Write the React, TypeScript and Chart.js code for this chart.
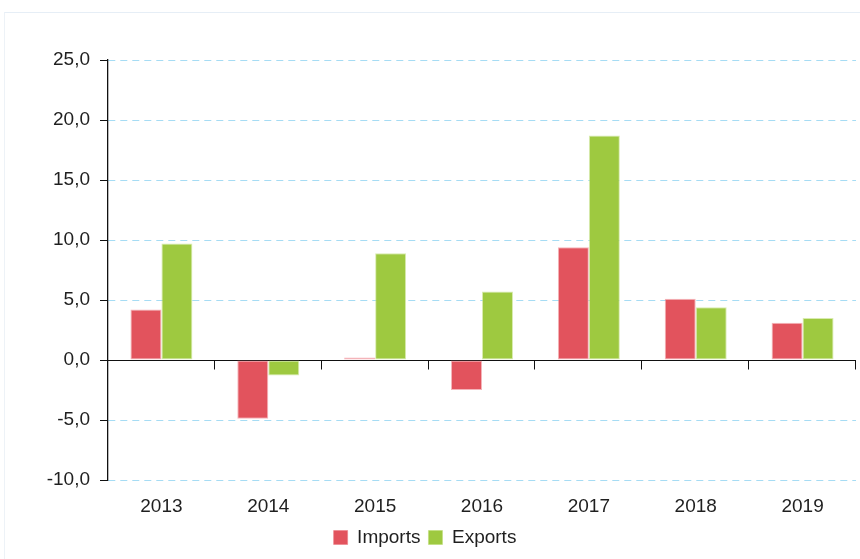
import React, { useEffect, useRef } from "react";
import { Chart, registerables } from "chart.js";

Chart.register(...registerables);

const years = ["2013", "2014", "2015", "2016", "2017", "2018", "2019"];
const imports = [4.2, -4.9, 0.2, -2.5, 9.4, 5.1, 3.1];
const exportsData = [9.7, -1.3, 8.9, 5.7, 18.7, 4.4, 3.5];
const yMin = -10;
const yMax = 25;
const yStep = 5;

const RED = "#e2535d";
const GREEN = "#9ec940";
const GRID = "#a6dcf4";
const TEXT = "#1f1f1f";

const zeroLinePlugin = {
  id: "zeroLine",
  beforeDatasetsDraw(chart: any) {
    const { ctx, chartArea, scales } = chart;
    const x = scales.x;
    const y = scales.y;
    const y0 = Math.round(y.getPixelForValue(0)) + 0.5;
    ctx.save();
    ctx.strokeStyle = "#111";
    ctx.lineWidth = 1;
    ctx.beginPath();
    ctx.moveTo(chartArea.left, y0);
    ctx.lineTo(chartArea.right, y0);
    for (let i = 1; i <= years.length; i++) {
      const px = Math.round(x.getPixelForValue(i - 0.5)) - 0.5;
      ctx.moveTo(px, y0);
      ctx.lineTo(px, y0 + 9);
    }
    ctx.stroke();
    ctx.restore();
  },
};

export default function App() {
  const ref = useRef<HTMLCanvasElement | null>(null);

  useEffect(() => {
    if (!ref.current) return;
    Chart.defaults.font.family = '"Liberation Sans", Arial, sans-serif';
    Chart.defaults.font.size = 19;
    Chart.defaults.color = TEXT;
    const chart = new Chart(ref.current, {
      type: "bar",
      data: {
        labels: years,
        datasets: [
          {
            label: "Imports",
            data: imports,
            backgroundColor: RED,
            borderColor: "rgba(236,130,138,0.6)",
            borderWidth: 1,
            borderSkipped: false,
            categoryPercentage: 0.58,
            barPercentage: 1,
          },
          {
            label: "Exports",
            data: exportsData,
            backgroundColor: GREEN,
            borderColor: "rgba(190,222,120,0.6)",
            borderWidth: 1,
            borderSkipped: false,
            categoryPercentage: 0.58,
            barPercentage: 1,
          },
        ],
      },
      options: {
        responsive: false,
        animation: false,
        layout: { padding: { top: 60, right: 4, bottom: 2, left: 0 } },
        plugins: {
          legend: {
            position: "bottom",
            labels: {
              boxWidth: 14,
              boxHeight: 14,
              padding: 8,
              font: { size: 19 },
              color: TEXT,
            },
          },
          tooltip: { enabled: false },
          title: { display: false },
        },
        scales: {
          x: {
            grid: { display: false, drawTicks: false },
            border: { display: false },
            ticks: { padding: 15, color: TEXT, font: { size: 19 } },
            afterFit(scale: any) {
              scale.height = 40;
            },
          },
          y: {
            min: yMin,
            max: yMax,
            ticks: {
              stepSize: yStep,
              padding: 10,
              color: TEXT,
              font: { size: 19 },
              callback: (v: any) => Number(v).toFixed(1).replace(".", ","),
            },
            grid: {
              color: (c: any) => (c.tick && c.tick.value === 0 ? "rgba(0,0,0,0)" : GRID),
              tickColor: "#111",
              tickLength: 8,
              lineWidth: 1,
            },
            border: { display: true, color: "#111", width: 1.3, dash: [7, 5] },
            afterFit(scale: any) {
              scale.width = 114;
            },
          },
        },
      },
      plugins: [zeroLinePlugin],
    });
    return () => chart.destroy();
  }, []);

  return (
    <div
      style={{
        position: "fixed",
        left: 0,
        top: 0,
        width: 860,
        height: 559,
        overflow: "hidden",
        background: "#fff",
      }}
    >
      <div
        style={{
          position: "absolute",
          left: 4,
          top: 12,
          width: 880,
          height: 580,
          borderTop: "1px solid #e6eef6",
          borderLeft: "1px solid #edf2f7",
        }}
      />
      <canvas
        ref={ref}
        width={866}
        height={559}
        style={{ position: "absolute", left: -6, top: 0, width: 866, height: 559 }}
      />
    </div>
  );
}
